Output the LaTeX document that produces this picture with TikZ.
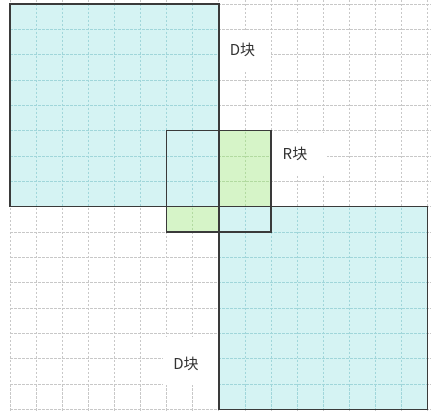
\documentclass[tikz,border=0pt]{standalone}
\usepackage{fontspec}
\setmainfont{Noto Sans CJK SC}
\definecolor{cyanfill}{RGB}{213,243,243}
\definecolor{greenfill}{RGB}{214,244,200}
\definecolor{gridgray}{RGB}{200,200,200}
\definecolor{gridcyan}{RGB}{160,214,218}
\definecolor{gridgreen}{RGB}{178,218,160}
\definecolor{bordercol}{RGB}{58,58,58}
\tikzset{
  gridline/.style={gridgray, line width=0.8pt, dash pattern=on 2.5pt off 1.5pt},
  blockborder/.style={bordercol, line width=1.4pt},
  lbl/.style={inner sep=0pt, font=\fontsize{15}{17}\selectfont, text=black!80},
}
\begin{document}
\begin{tikzpicture}[x=1pt,y=-1pt]
\useasboundingbox (0,0) rectangle (431,411);
\fill[white] (0,0) rectangle (431,411);
% grid coordinates
\coordinate (D1a) at (10,4);
\coordinate (D1b) at ({10+8*26.1},{4+8*25.35});
\coordinate (D2a) at ({10+8*26.1},{4+8*25.35});
\coordinate (D2b) at ({10+16*26.1},{4+16*25.35});
\coordinate (Ra) at ({10+6*26.1},{4+5*25.35});
\coordinate (Rb) at ({10+10*26.1},{4+9*25.35});
% fills
\fill[cyanfill] (D1a) rectangle (D1b);
\fill[cyanfill] (D2a) rectangle (D2b);
\fill[greenfill] ({10+8*26.1},{4+5*25.35}) rectangle ({10+10*26.1},{4+8*25.35});
\fill[greenfill] ({10+6*26.1},{4+8*25.35}) rectangle ({10+8*26.1},{4+9*25.35});
% grid in white area
\foreach \i in {0,...,16} {
  \draw[gridline] ({10+26.1*\i},0) -- ({10+26.1*\i},411);
  \draw[gridline] (10,{4+25.35*\i}) -- (431,{4+25.35*\i});
}
% grid in cyan areas
\begin{scope}
  \clip (D1a) rectangle (D1b) (D2a) rectangle (D2b);
  \foreach \i in {0,...,16} {
    \draw[gridline, gridcyan] ({10+26.1*\i},0) -- ({10+26.1*\i},411);
    \draw[gridline, gridcyan] (10,{4+25.35*\i}) -- (431,{4+25.35*\i});
  }
\end{scope}
% grid in green areas
\begin{scope}
  \clip ({10+8*26.1},{4+5*25.35}) rectangle ({10+10*26.1},{4+8*25.35})
        ({10+6*26.1},{4+8*25.35}) rectangle ({10+8*26.1},{4+9*25.35});
  \foreach \i in {0,...,16} {
    \draw[gridline, gridgreen] ({10+26.1*\i},0) -- ({10+26.1*\i},411);
    \draw[gridline, gridgreen] (10,{4+25.35*\i}) -- (431,{4+25.35*\i});
  }
\end{scope}
% label backgrounds
\fill[white] (219.6,30) rectangle (271,70);
\fill[white] (271,133) rectangle (327,175);
\fill[white] (163,337) rectangle (218,385);
% labels
\node[lbl] (dtop) at (242.5,50) {D块};
\node[lbl] (rlbl) at (295,154) {R块};
\node[lbl] (dbot) at (186,364) {D块};
% borders
\draw[blockborder] (D1a) rectangle (D1b);
\draw[blockborder] (D2a) rectangle (D2b);
\draw[blockborder] (Ra) rectangle (Rb);
\end{tikzpicture}
\end{document}
